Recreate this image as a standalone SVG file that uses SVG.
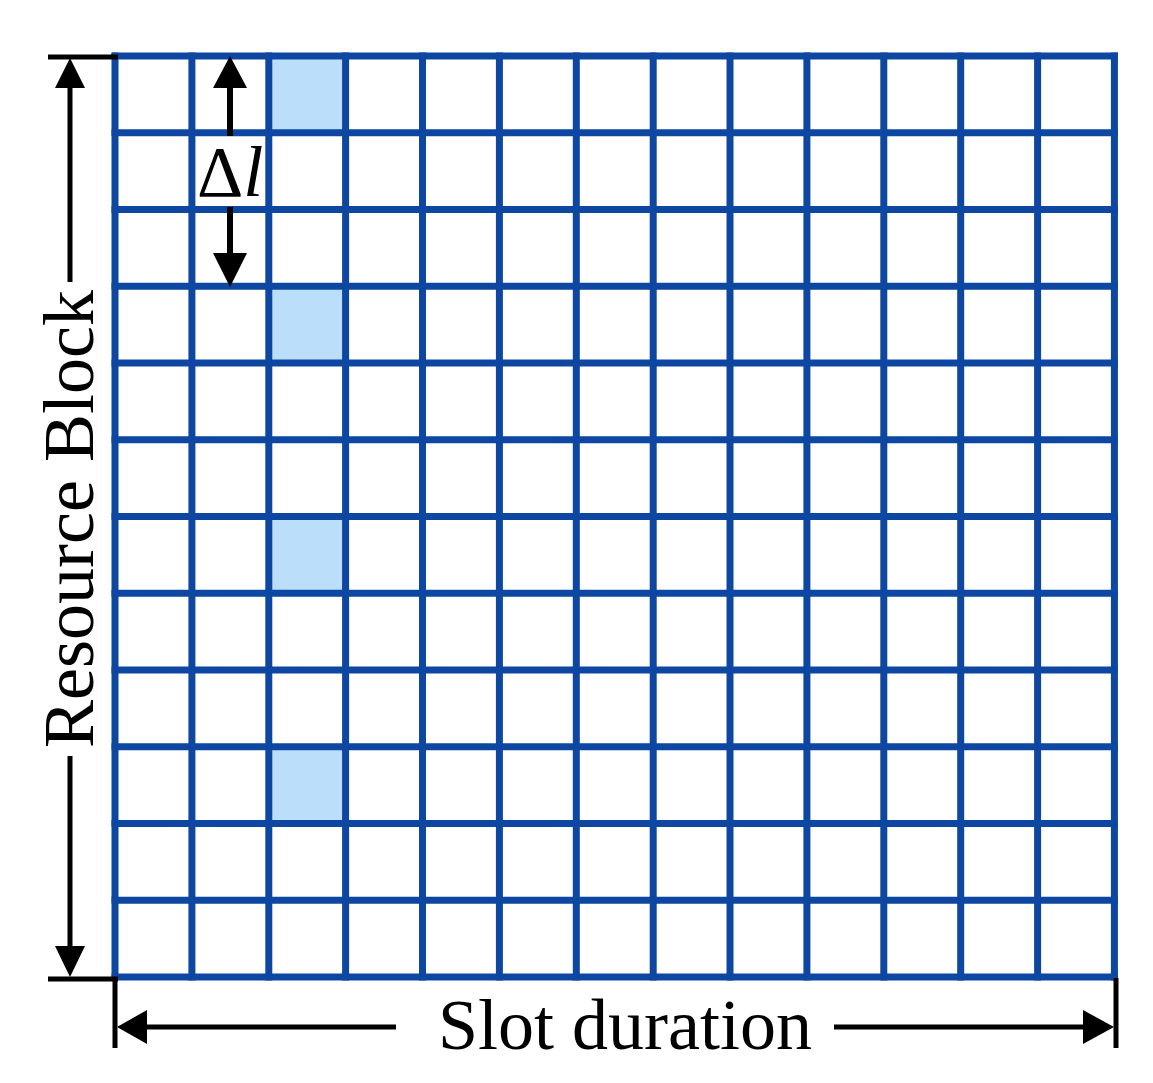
<svg xmlns="http://www.w3.org/2000/svg" width="1153" height="1083" viewBox="0 0 1153 1083">
<style>
.grid{stroke:#0d47a1;stroke-width:7;fill:none;stroke-linecap:square}
.hl{fill:#bbdefb}
.dim{stroke:#000;stroke-width:5;fill:none}
.head{fill:#000}
.lbl{font-family:"Liberation Serif","Times New Roman",serif;font-size:72px;fill:#000}
</style>
<rect width="1153" height="1083" fill="#fff"/>
<g id="highlights">
<rect class="hl" x="268" y="56" width="79.5" height="76.75"/>
<rect class="hl" x="268" y="286.25" width="79.5" height="76.75"/>
<rect class="hl" x="268" y="516.5" width="79.5" height="76.75"/>
<rect class="hl" x="268" y="746.75" width="79.5" height="76.75"/>
</g>
<g id="grid" class="grid">
<path d="M115 56V977M191.9 56V977M268.8 56V977M345.6 56V977M422.5 56V977M499.4 56V977M576.3 56V977M653.2 56V977M730 56V977M806.9 56V977M883.8 56V977M960.7 56V977M1037.6 56V977M1114.4 56V977"/>
<path d="M115 56H1114.4M115 132.75H1114.4M115 209.5H1114.4M115 286.25H1114.4M115 363H1114.4M115 439.75H1114.4M115 516.5H1114.4M115 593.25H1114.4M115 670H1114.4M115 746.75H1114.4M115 823.5H1114.4M115 900.25H1114.4M115 977H1114.4"/>
</g>
<g id="connectors">
<g id="rb-arrow">
<path class="dim" d="M48 57H118M48 979H118M70 86V282M70 756V948"/>
<polygon class="head" points="70,58 55,88 85,88"/>
<polygon class="head" points="70,977 55,946 85,946"/>
</g>
<g id="slot-arrow">
<path class="dim" d="M115 978V1048M1116 978V1048M145 1027H396M834 1027H1085"/>
<polygon class="head" points="117,1027 147,1010 147,1044"/>
<polygon class="head" points="1114,1027 1083,1010 1083,1044"/>
</g>
<g id="dl-arrow">
<path class="dim" style="stroke-width:6" d="M230 86V136M230 207V256"/>
<polygon class="head" points="230,56 213,88 247,88"/>
<polygon class="head" points="230,287 213,253 247,253"/>
</g>
</g>
<g id="label-slot"><text class="lbl" x="625" y="1049" text-anchor="middle">Slot duration</text></g>
<g id="label-rb"><text class="lbl" transform="translate(93,519) rotate(-90)" text-anchor="middle">Resource Block</text></g>
<g id="label-dl"><text class="lbl" x="197" y="196">Δ<tspan font-style="italic">l</tspan></text></g>
</svg>
